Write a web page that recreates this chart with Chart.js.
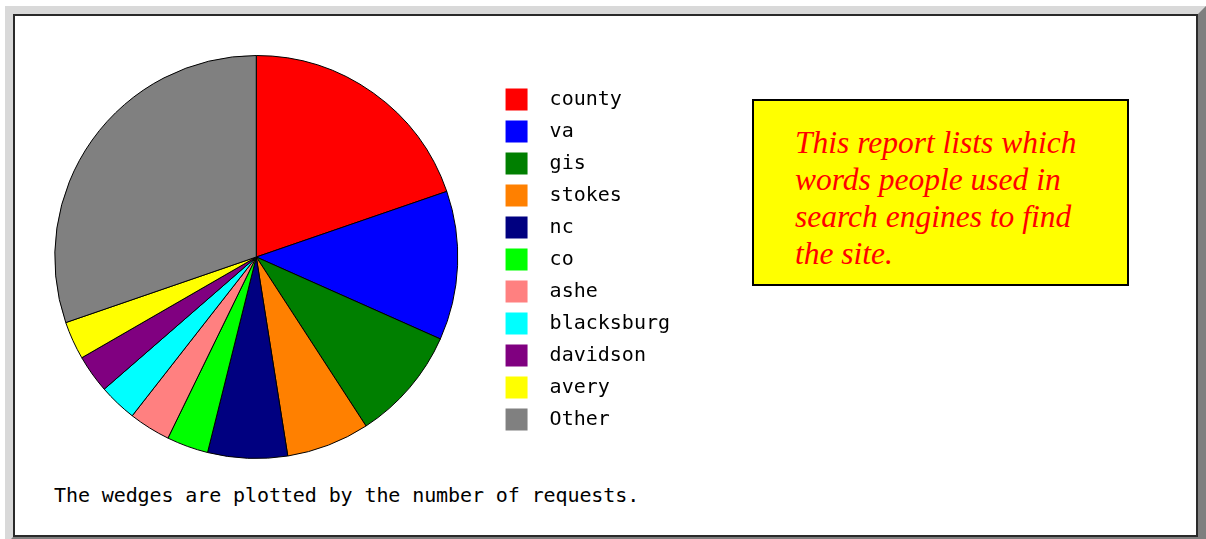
<!DOCTYPE html>
<html>
<head>
<meta charset="utf-8">
<script src="https://cdn.jsdelivr.net/npm/chart.js@4"></script>
<style>
  html, body { margin: 0; padding: 0; background: #fff; width: 1206px; height: 539px; overflow: hidden; }
  .frame {
    position: absolute; left: 5px; top: 6px; width: 1185px; height: 523px;
    border-style: solid; border-width: 8px;
    border-color: #d9d9d9 #7f7f7f #7f7f7f #d9d9d9;
  }
  .inner {
    position: absolute; left: 0; top: 0; right: 0; bottom: 0;
    border: 2px solid #2a2a2a; background: #fff;
  }
  #chartBox { position: absolute; left: 17px; top: 55px; width: 663px; height: 404px; }
  .note {
    position: absolute; left: 752px; top: 99px; width: 373px; height: 183px;
    border: 2px solid #000; background: #ffff00; box-sizing: content-box;
  }
  .note p {
    margin: 0; padding: 23px 0 0 41px;
    font-family: "Liberation Serif", serif; font-style: italic;
    font-size: 31.5px; line-height: 37px; color: #ff0000;
  }
  .caption {
    position: absolute; left: 54px; top: 485px;
    font-family: "DejaVu Sans Mono", monospace; font-size: 20px; line-height: 20px;
    color: #000; white-space: pre; letter-spacing: -0.1px;
  }
</style>
</head>
<body>
<div class="frame"><div class="inner"></div></div>
<div id="chartBox"><canvas id="pieChart"></canvas></div>
<div class="note"><p>This report lists which<br>words people used in<br>search engines to find<br>the site.</p></div>
<div class="caption">The wedges are plotted by the number of requests.</div>

<script>
// search words and their request counts
const words = ['county', 'va', 'gis', 'stokes', 'nc', 'co', 'ashe', 'blacksburg', 'davidson', 'avery', 'Other'];
const requests = [71, 43, 33, 24, 23, 12, 12, 11, 11, 11, 109];
const wedgeColors = ['#ff0000', '#0000ff', '#007f00', '#ff8000', '#000080', '#00ff00',
                     '#ff8080', '#00ffff', '#800080', '#ffff00', '#808080'];

const defaultLabels = Chart.overrides.pie.plugins.legend.labels.generateLabels;

const ctx = document.getElementById('pieChart').getContext('2d');
const pieChart = new Chart(ctx, {
  type: 'pie',
  data: {
    labels: words,
    datasets: [{
      data: requests,
      backgroundColor: wedgeColors,
      borderColor: '#000',
      borderWidth: 1
    }]
  },
  options: {
    responsive: true,
    maintainAspectRatio: false,
    animation: false,
    layout: { padding: 0 },
    plugins: {
      tooltip: { enabled: false },
      legend: {
        position: 'right',
        // empty title only nudges the list down a little
        title: { display: true, text: '', font: { size: 1 }, padding: { top: 4, bottom: 0 } },
        labels: {
          boxWidth: 22,
          boxHeight: 22,
          padding: 10,
          color: '#000',
          font: { family: '"DejaVu Sans Mono", monospace', size: 20 },
          generateLabels: function(chart) {
            // plain colour squares, no black outline, a bit more room before the text
            return defaultLabels(chart).map(function(item) {
              item.lineWidth = 0;
              item.strokeStyle = item.fillStyle;
              item.text = '\u2004' + item.text;
              return item;
            });
          }
        }
      }
    }
  }
});
</script>
</body>
</html>
